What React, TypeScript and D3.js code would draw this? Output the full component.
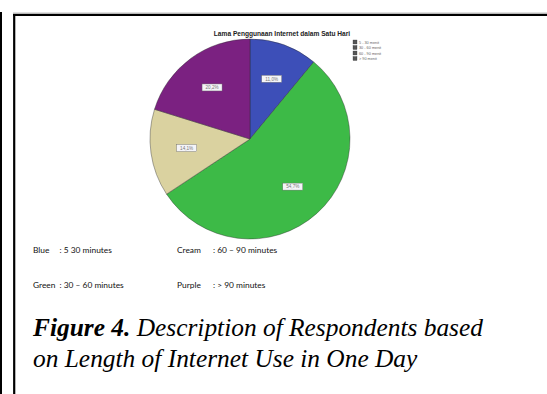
import React from "react";
import * as d3 from "d3";

// Share of respondents per daily internet-use bracket (percent)
const categories = ["5 - 30 menit", "30 - 60 menit", "60 - 90 menit", "> 90 menit"];
const shares = [11.0, 54.7, 14.1, 20.2];
const sliceColors = ["#3d4fb8", "#3dba47", "#dad2a0", "#7b2181"];
const chartTitle = "Lama Penggunaan Internet dalam Satu Hari";

const keyRows = [
  [{ name: "Blue", range: ": 5 30 minutes" }, { name: "Cream", range: ": 60 \u2013 90 minutes" }],
  [{ name: "Green", range: ": 30 \u2013 60 minutes" }, { name: "Purple", range: ": > 90 minutes" }],
];
const captionLead = "Figure 4.";
const captionLine1 = " Description of Respondents based";
const captionLine2 = "on Length of Internet Use in One Day";

const W = 547;
const H = 394;
const cx = 250;
const cy = 139;
const radius = 100;

export default function App() {
  const data = categories.map((c, i) => ({ c, v: shares[i], color: sliceColors[i] }));
  const pie = d3.pie<any>().sort(null).value((d) => d.v);
  const arcs = pie(data);
  const arc = d3.arc<any>().innerRadius(0).outerRadius(radius);
  const labelArc = d3.arc<any>().innerRadius(radius * 0.64).outerRadius(radius * 0.64);
  const fmt = (v: number) => v.toFixed(1).replace(".", ",") + "%";

  return (
    <svg
      width={W}
      height={H}
      style={{ position: "absolute", left: 0, top: 0, background: "#fff" }}
    >
      <rect x={0} y={0} width={W} height={H} fill="#fff" />
      {/* page frame */}
      <line x1={1} y1={12} x2={1} y2={H} stroke="#000" strokeWidth={2} />
      <line x1={14.2} y1={14.5} x2={14.2} y2={H} stroke="#000" strokeWidth={2.2} />
      <line x1={13} y1={13.2} x2={W} y2={13.2} stroke="#999" strokeWidth={1} />
      <line x1={13} y1={14.9} x2={W} y2={14.9} stroke="#000" strokeWidth={2} />

      <text
        x={282}
        y={36}
        textAnchor="middle"
        fontFamily="Liberation Sans, Arial, sans-serif"
        fontSize={6.6}
        fontWeight="bold"
        fill="#222"
      >
        {chartTitle}
      </text>

      {/* legend */}
      {categories.map((c, i) => (
        <g key={c} transform={`translate(353,${40 + i * 5.5})`}>
          <rect x={0} y={0} width={4} height={4} fill="#555" stroke="#333" strokeWidth={0.3} />
          <text x={6} y={3.5} fontSize={3.8} fontFamily="Liberation Sans, Arial, sans-serif" fill="#666">
            {c}
          </text>
        </g>
      ))}

      <g transform={`translate(${cx},${cy})`}>
        {arcs.map((a, i) => (
          <path key={i} d={arc(a) as string} fill={a.data.color} stroke="#2a2a2a" strokeWidth={0.4} />
        ))}
        {arcs.map((a, i) => {
          const [lx, ly] = labelArc.centroid(a);
          return (
            <g key={"l" + i} transform={`translate(${lx},${ly})`}>
              <rect x={-10} y={-3.5} width={20} height={7} fill="#f4f4f8" stroke="#666" strokeWidth={0.4} />
              <text
                x={0}
                y={1.8}
                textAnchor="middle"
                fontSize={4.6}
                fontFamily="Liberation Sans, Arial, sans-serif"
                fill="#777"
              >
                {fmt(a.data.v)}
              </text>
            </g>
          );
        })}
      </g>

      {/* colour key */}
      {keyRows.map((row, r) =>
        row.map((k, j) => (
          <g key={k.name} fontFamily="Lato, 'Open Sans', sans-serif" fontSize={8.4} fill="#111">
            <text x={j === 0 ? 33 : 177} y={253 + r * 34.5}>{k.name}</text>
            <text x={j === 0 ? 59.5 : 213} y={253 + r * 34.5}>{k.range}</text>
          </g>
        ))
      )}

      {/* caption */}
      <text x={33} y={336} fontFamily="Liberation Serif, 'Times New Roman', serif" fontSize={25.4} fontStyle="italic" fill="#000">
        <tspan fontWeight="bold">{captionLead}</tspan>
        <tspan>{captionLine1}</tspan>
      </text>
      <text x={33} y={367} fontFamily="Liberation Serif, 'Times New Roman', serif" fontSize={25.4} fontStyle="italic" fill="#000">
        {captionLine2}
      </text>
    </svg>
  );
}
